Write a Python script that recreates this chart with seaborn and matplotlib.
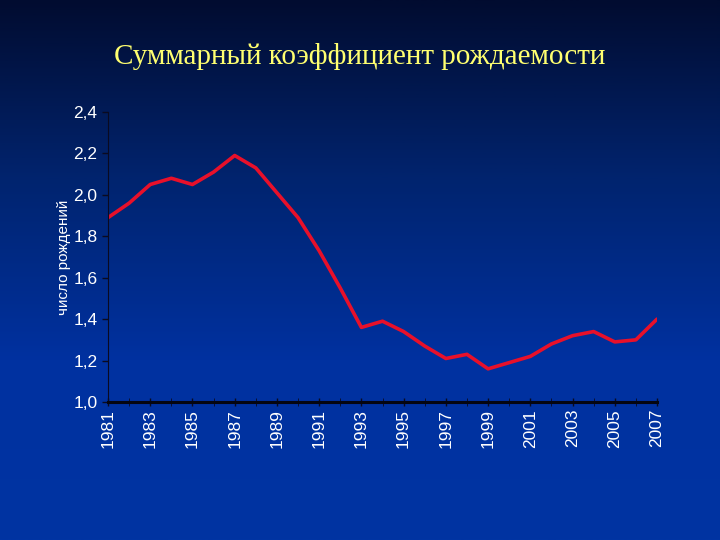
import numpy as np
import pandas as pd
import matplotlib
matplotlib.use("Agg")
import matplotlib.pyplot as plt
import seaborn as sns

# total fertility rate, Russia 1981-2007
years = list(range(1981, 2008))
tfr = [1.89, 1.96, 2.05, 2.08, 2.05, 2.11, 2.19, 2.13, 2.01, 1.89,
       1.73, 1.55, 1.36, 1.39, 1.34, 1.27, 1.21, 1.23, 1.16, 1.19,
       1.22, 1.28, 1.32, 1.34, 1.29, 1.30, 1.40]
yticks = [1.0, 1.2, 1.4, 1.6, 1.8, 2.0, 2.2, 2.4]

df = pd.DataFrame({"year": years, "tfr": tfr})

sns.set_style("ticks")
plt.rcParams["font.family"] = ["Liberation Sans", "DejaVu Sans"]

fig = plt.figure(figsize=(7.2, 5.4), dpi=100)

# slide background gradient
bg = fig.add_axes([0, 0, 1, 1], zorder=-10)
grad = np.linspace(0, 1, 256).reshape(-1, 1)
cmap = matplotlib.colors.LinearSegmentedColormap.from_list(
    "slide", ["#010c30", "#01246f", "#0031a0", "#0034a2"])
bg.imshow(grad, aspect="auto", cmap=cmap, extent=[0, 1, 0, 1], origin="upper")
bg.axis("off")

ax = fig.add_axes([0.15, 0.2556, 0.7625, 0.537])
ax.patch.set_alpha(0)
sns.lineplot(data=df, x="year", y="tfr", ax=ax, color="#e8102a", linewidth=2.6)

ax.set_xlim(1981, 2007)
ax.set_ylim(1.0, 2.4)
ax.set_yticks(yticks)
ax.set_yticklabels([f"{v:.1f}".replace(".", ",") for v in yticks])
ax.set_xticks(years[::2])
ax.set_xticklabels([str(y) for y in years[::2]], rotation=90)
ax.set_xticks(years, minor=True)
ax.tick_params(colors="white", labelsize=12.5, length=4, width=1)
ax.tick_params(axis="x", which="both", color="#0a0a20", direction="inout", length=6, pad=2)
ax.tick_params(axis="y", color="#0a0a20")
ax.set_xlabel("")
ax.set_ylabel("число рождений", color="white", fontsize=11, labelpad=2)
for s in ["top", "right"]:
    ax.spines[s].set_visible(False)
ax.spines["left"].set_color("#0a0a20")
ax.spines["bottom"].set_color("#050510")
ax.spines["bottom"].set_linewidth(2.2)

fig.text(0.5, 0.896, "Суммарный коэффициент рождаемости", ha="center", va="center",
         fontsize=21, color="#ffff70", family=["Liberation Serif", "DejaVu Serif"])

fig.savefig("out.png", dpi=100)
